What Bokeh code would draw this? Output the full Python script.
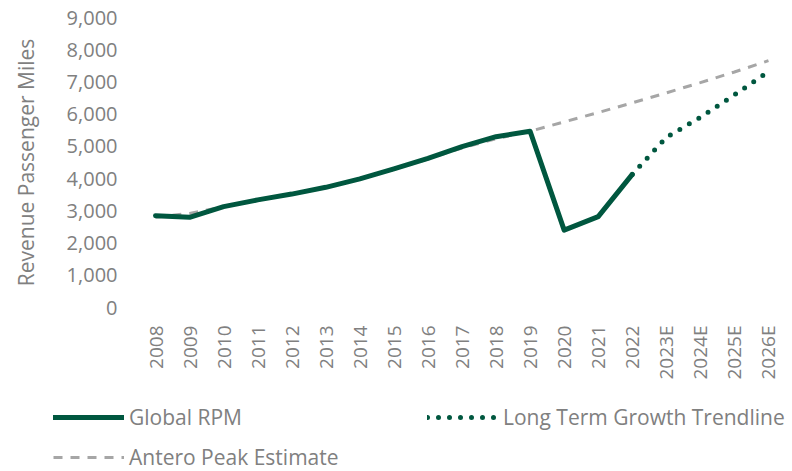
from bokeh.plotting import figure
from bokeh.layouts import column
from bokeh.models import (FactorRange, Range1d, FixedTicker, NumeralTickFormatter,
                          Legend, LegendItem)
from bokeh.embed import file_html
from bokeh.resources import INLINE
import math

years = ["2008", "2009", "2010", "2011", "2012", "2013", "2014", "2015", "2016",
         "2017", "2018", "2019", "2020", "2021", "2022", "2023E", "2024E", "2025E", "2026E"]

rpm_years = years[:15]
rpm_values = [2850, 2800, 3130, 3340, 3520, 3730, 3990, 4300, 4630, 4990, 5300, 5470,
              2400, 2820, 4130]

trend_years = ["2022", "2023E", "2024E", "2025E", "2026E"]
trend_values = [4130, 5280, 5900, 6600, 7320]

peak_years = years
peak_values = [2800, 2920, 3130, 3330, 3530, 3740, 3990, 4290, 4610, 4950, 5240, 5470,
               5760, 6050, 6350, 6660, 6980, 7310, 7660]

y_ticks = [0, 1000, 2000, 3000, 4000, 5000, 6000, 7000, 8000, 9000]

series_labels = ["Global RPM", "Long Term Growth Trendline", "Antero Peak Estimate"]

GREEN = "#00573F"
GRAY_LINE = "#A6A6A6"
TEXT = "#808080"
FONT = "Open Sans"

RPM_STYLE = dict(line_color=GREEN, line_width=5, line_join="round", line_cap="round")
TREND_STYLE = dict(line_color=GREEN, line_width=5, line_dash="0 11", line_cap="round")
PEAK_STYLE = dict(line_color=GRAY_LINE, line_width=3, line_dash="9 8")

H1 = 395
p = figure(x_range=FactorRange(*years, range_padding=0),
           y_range=Range1d(0, 9000),
           width=792, height=H1, output_backend="svg", toolbar_location=None,
           min_border_left=138, min_border_right=7, min_border_top=17,
           min_border_bottom=H1 - 307)
p.frame_align = False
p.outline_line_color = None
p.background_fill_color = None
p.border_fill_color = None

# axes
p.yaxis.ticker = FixedTicker(ticks=y_ticks)
p.yaxis.formatter = NumeralTickFormatter(format="0,0")
p.yaxis.axis_line_color = None
p.yaxis.major_tick_line_color = None
p.yaxis.minor_tick_line_color = None
p.yaxis.major_label_text_font = FONT
p.yaxis.major_label_text_font_size = "20px"
p.yaxis.major_label_text_color = TEXT
p.yaxis.major_label_standoff = 15
p.yaxis.axis_label = "Revenue Passenger Miles"
p.yaxis.axis_label_text_font = FONT
p.yaxis.axis_label_text_font_size = "21px"
p.yaxis.axis_label_text_font_style = "normal"
p.yaxis.axis_label_text_color = TEXT
p.yaxis.axis_label_standoff = 24

p.xaxis.axis_line_color = None
p.xaxis.major_tick_line_color = None
p.xaxis.minor_tick_line_color = None
p.xaxis.major_label_orientation = math.pi / 2
p.xaxis.major_label_text_font = FONT
p.xaxis.major_label_text_font_size = "19px"
p.xaxis.major_label_text_color = TEXT
p.xaxis.major_label_standoff = 12

p.xgrid.visible = False
p.ygrid.ticker = FixedTicker(ticks=[0])
p.ygrid.grid_line_color = "#D9D9D9"
p.ygrid.grid_line_width = 2

# series
r_peak = p.line(peak_years, peak_values, **PEAK_STYLE)
r_rpm = p.line(rpm_years, rpm_values, **RPM_STYLE)
r_trend = p.line(trend_years, trend_values, **TREND_STYLE)

# legend panel (separate figure below the chart); its ranges keep the
# helper lines off-screen so that only their legend samples show
H2 = 471 - H1
q = figure(width=792, height=H2, output_backend="svg", toolbar_location=None,
           x_range=Range1d(0, 1), y_range=Range1d(0, 1),
           min_border_left=0, min_border_right=0, min_border_top=0, min_border_bottom=0)
q.frame_align = False
q.axis.visible = False
q.grid.visible = False
q.outline_line_color = None
q.background_fill_color = None
q.border_fill_color = None
idx = list(range(len(rpm_values)))
l_rpm = q.line(idx, rpm_values, **RPM_STYLE)
l_trend = q.line(idx[:len(trend_values)], trend_values, **TREND_STYLE)
l_peak = q.line(list(range(len(peak_values))), peak_values, **PEAK_STYLE)

legend = Legend(items=[
    LegendItem(label=series_labels[0], renderers=[l_rpm]),
    LegendItem(label=series_labels[1], renderers=[l_trend]),
    LegendItem(label=series_labels[2], renderers=[l_peak]),
], location=(53, 0), orientation="horizontal", ncols=2)
legend.glyph_width = 71
legend.glyph_height = 22
legend.label_height = 22
legend.label_width = 286
legend.label_standoff = 5
legend.spacing = 12
legend.padding = 0
legend.margin = 0
legend.border_line_color = None
legend.background_fill_alpha = 0
legend.label_text_font = FONT
legend.label_text_font_size = "21px"
legend.label_text_color = TEXT
q.add_layout(legend, "center")

layout = column(p, q, spacing=0)
open("out.html", "w").write(file_html(layout, INLINE))
